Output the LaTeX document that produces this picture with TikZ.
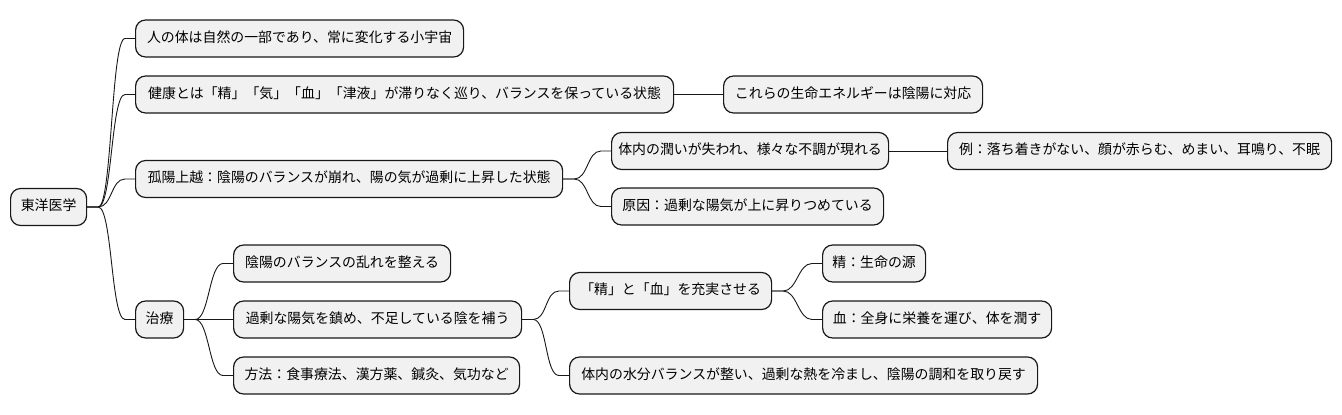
\documentclass[tikz,border=0pt]{standalone}
\usepackage{fontspec}
\newfontfamily\jpfont{Noto Sans CJK JP}
\definecolor{boxfill}{HTML}{F1F1F1}
\definecolor{boxline}{HTML}{181818}
\tikzset{
  mmbox/.style={draw=boxline, fill=boxfill, line width=1.2pt, rounded corners=10pt,
    minimum height=37pt, inner sep=0pt, anchor=west, align=center,
    text height=0.88em, text depth=0.12em,
    font=\jpfont\fontsize{13.9}{16}\selectfont},
  link/.style={draw=boxline, line width=0.9pt,
    to path={-- ++(11,0) .. controls +(14,0) and +(-14,0) .. ([xshift=-10pt]\tikztotarget) -- (\tikztotarget)}},
  straight/.style={draw=boxline, line width=0.9pt}
}
\begin{document}
\begin{tikzpicture}[x=1pt,y=-1pt]
\useasboundingbox (0,0) rectangle (1342,415);
% nodes
\node[mmbox, minimum width=76pt] (root) at (10,207) {東洋医学};
\node[mmbox, minimum width=328pt] (a1) at (135,38.5) {人の体は自然の一部であり、常に変化する小宇宙};
\node[mmbox, minimum width=538pt] (a2) at (135,94.5) {健康とは「精」「気」「血」「津液」が滞りなく巡り、バランスを保っている状態};
\node[mmbox, minimum width=259pt] (a2c) at (723,94.5) {これらの生命エネルギーは陰陽に対応};
\node[mmbox, minimum width=427pt] (a3) at (135,179) {孤陽上越：陰陽のバランスが崩れ、陽の気が過剰に上昇した状態};
\node[mmbox, minimum width=277pt] (a3a) at (611,151) {体内の潤いが失われ、様々な不調が現れる};
\node[mmbox, minimum width=384pt] (a3a1) at (947,151) {例：落ち着きがない、顔が赤らむ、めまい、耳鳴り、不眠};
\node[mmbox, minimum width=272pt] (a3b) at (611,206.5) {原因：過剰な陽気が上に昇りつめている};
\node[mmbox, minimum width=48pt] (a4) at (135,319.5) {治療};
\node[mmbox, minimum width=217pt] (a4a) at (233,263.5) {陰陽のバランスの乱れを整える};
\node[mmbox, minimum width=288pt] (a4b) at (233,319.5) {過剰な陽気を鎮め、不足している陰を補う};
\node[mmbox, minimum width=286pt] (a4c) at (233,375.5) {方法：食事療法、漢方薬、鍼灸、気功など};
\node[mmbox, minimum width=202pt] (a4b1) at (569,291) {「精」と「血」を充実させる};
\node[mmbox, minimum width=103pt] (a4b1a) at (822,263.5) {精：生命の源};
\node[mmbox, minimum width=229pt] (a4b1b) at (822,319.5) {血：全身に栄養を運び、体を潤す};
\node[mmbox, minimum width=468pt] (a4b2) at (569,375.5) {体内の水分バランスが整い、過剰な熱を冷まし、陰陽の調和を取り戻す};
% connectors
\draw[link] (root.east) to (a1.west);
\draw[link] (root.east) to (a2.west);
\draw[link] (root.east) to (a3.west);
\draw[link] (root.east) to (a4.west);
\draw[straight] (a2.east) -- (a2c.west);
\draw[link] (a3.east) to (a3a.west);
\draw[link] (a3.east) to (a3b.west);
\draw[straight] (a3a.east) -- (a3a1.west);
\draw[link] (a4.east) to (a4a.west);
\draw[link] (a4.east) to (a4b.west);
\draw[link] (a4.east) to (a4c.west);
\draw[link] (a4b.east) to (a4b1.west);
\draw[link] (a4b.east) to (a4b2.west);
\draw[link] (a4b1.east) to (a4b1a.west);
\draw[link] (a4b1.east) to (a4b1b.west);
\end{tikzpicture}
\end{document}
